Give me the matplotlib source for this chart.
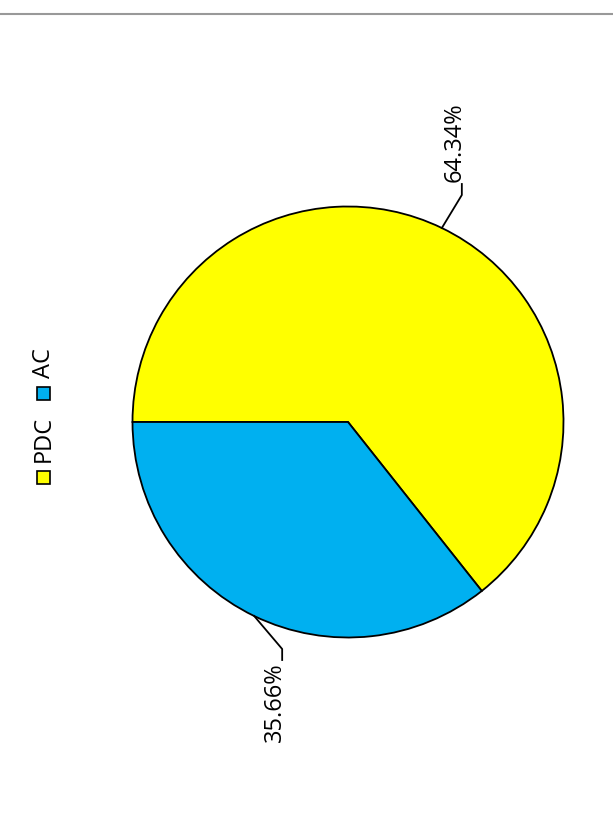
import numpy as np
import matplotlib
matplotlib.use("Agg")
from matplotlib import pyplot as plt
from matplotlib.patches import Rectangle
from matplotlib.lines import Line2D

labels = ["PDC", "AC"]
values = [64.34, 35.66]
colors = ["#ffff00", "#00b0f0"]

plt.rcParams['font.family'] = ['Open Sans', 'DejaVu Sans']

W, H = 613, 830
fig = plt.figure(figsize=(W / 100, H / 100), dpi=100)
ax = fig.add_axes([0, 0, 1, 1])

cx, cy, r = 348, 830 - 422, 215.5
wedges, _ = ax.pie(values, colors=colors, startangle=180, counterclock=False,
                   center=(cx, cy), radius=r, frame=True,
                   wedgeprops=dict(edgecolor="black", linewidth=1.3))
ax.set_xlim(0, W)
ax.set_ylim(0, H)
ax.set_aspect("equal")
ax.axis("off")

# percentage labels with leader lines (chart is turned 90 degrees)
total = sum(values)
for w, v in zip(wedges, values):
    ang = np.deg2rad((w.theta1 + w.theta2) / 2)
    ex, ey = cx + r * np.cos(ang), cy + r * np.sin(ang)
    s = np.sign(np.sin(ang))
    kx, ky = ex + (20 if s > 0 else 28), ey + s * 33
    tx, ty = kx, ky + s * 11
    ax.plot([ex, kx, kx], [ey, ky, ty], color="black", lw=1.3)
    ax.text(kx - 7, ty + s * 2, "%.2f%%" % (100 * v / total), rotation=90,
            ha="center", va="bottom" if s > 0 else "top", fontsize=17)

# legend, turned as well
leg_y = [830 - 478, 830 - 394]
for lab, col, ly in zip(labels, colors, leg_y):
    ax.add_patch(Rectangle((37, ly - 6.5), 13, 13, facecolor=col,
                           edgecolor="black", lw=1.2))
    ax.text(44, ly + 16, lab, rotation=90, ha="center", va="bottom", fontsize=17)

fig.add_artist(Line2D([0, 1], [1 - 14.5 / H, 1 - 14.5 / H], color="#999999", lw=1.5))

fig.savefig("out.png", dpi=100)
